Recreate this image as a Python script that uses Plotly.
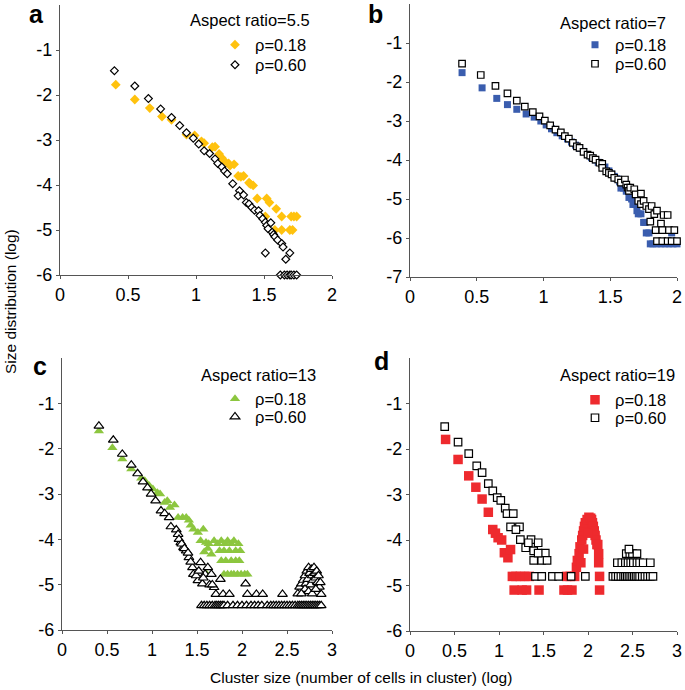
import plotly.graph_objects as go

W, H = 685, 690
FONT = "Liberation Sans, Arial, sans-serif"

# ---------------- data ----------------
# panel a  (aspect ratio 5.5)
a18_x = [0.41,0.55,0.66,0.75,0.82,0.93,0.99,1.04,1.06,1.12,1.14,1.17,1.19,1.21,1.24,1.25,1.28,1.31,1.33,1.35,
         1.39,1.40,1.42,1.45,1.52,1.54,1.51,1.59,1.63,1.70,1.72,1.74,1.58,1.63,1.69,1.71]
a18_y = [-1.77,-2.10,-2.29,-2.48,-2.55,-2.88,-2.90,-3.03,-3.07,-3.16,-3.15,-3.31,-3.40,-3.47,-3.52,-3.57,-3.54,-3.80,-3.82,-3.80,
         -3.95,-3.98,-4.01,-4.30,-4.30,-4.39,-4.70,-4.53,-4.70,-4.70,-4.70,-4.70,-5.00,-5.00,-5.00,-5.00]
a60_x = [0.40,0.55,0.65,0.74,0.82,0.88,0.93,0.98,1.02,1.06,1.10,1.14,1.16,1.19,1.21,1.23,1.27,1.32,1.31,1.35,
         1.37,1.39,1.41,1.43,1.46,1.47,1.49,1.51,1.52,1.53,1.55,1.56,1.57,1.58,1.60,1.63,1.64,1.66,1.69,1.51,
         1.62,1.65,1.67,1.69,1.70,1.72,1.74]
a60_y = [-1.46,-1.80,-2.08,-2.31,-2.50,-2.68,-2.84,-2.96,-3.09,-3.24,-3.30,-3.42,-3.52,-3.60,-3.69,-3.75,-3.97,-4.13,-4.24,-4.22,
         -4.39,-4.42,-4.50,-4.56,-4.57,-4.68,-4.75,-4.83,-4.90,-4.97,-4.84,-5.05,-5.10,-5.15,-5.22,-5.30,-5.38,-5.65,-5.51,-5.51,
         -6.0,-6.0,-6.0,-6.0,-6.0,-6.0,-6.0]

# panel b  (aspect ratio 7)
b18_x = [0.39,0.54,0.65,0.73,0.80,0.87,0.93,0.98,1.02,1.06,1.10,1.14,1.18,1.21,1.24,1.27,1.30,1.33,1.36,1.39,
         1.41,1.44,1.46,1.49,1.51,1.53,1.55,1.57,1.58,1.60,1.62,1.64,1.66,1.67,1.69,1.70,1.71,1.73,1.75,1.76,
         1.77,1.79,1.80,1.82,1.85,1.88,1.91,1.94,1.97,2.00,1.96]
b18_y = [-1.76,-2.15,-2.42,-2.58,-2.70,-2.82,-2.90,-3.00,-3.10,-3.20,-3.30,-3.38,-3.46,-3.54,-3.62,-3.70,-3.78,-3.86,-3.94,-4.00,
         -4.06,-4.10,-4.18,-4.28,-4.36,-4.42,-4.48,-4.56,-4.72,-4.72,-4.80,-4.96,-5.00,-5.14,-5.14,-5.30,-5.38,-5.38,-5.60,-5.60,
         -5.87,-5.87,-6.15,-6.15,-6.15,-6.15,-6.15,-6.15,-6.15,-6.15,-5.87]
b60_x = [0.39,0.53,0.64,0.73,0.80,0.86,0.92,0.97,1.01,1.05,1.09,1.13,1.16,1.19,1.22,1.25,1.27,1.30,1.33,1.35,
         1.37,1.39,1.42,1.44,1.44,1.47,1.49,1.51,1.53,1.56,1.58,1.61,1.62,1.63,1.64,1.65,1.68,1.69,1.73,1.71,
         1.73,1.75,1.77,1.79,1.81,1.83,1.85,1.80,1.90,1.93,1.88,1.84,1.89,1.94,1.98,1.85,1.89,1.93,1.96,2.00]
b60_y = [-1.53,-1.82,-2.10,-2.29,-2.48,-2.63,-2.77,-2.88,-2.99,-3.11,-3.22,-3.29,-3.39,-3.45,-3.56,-3.65,-3.69,-3.79,-3.86,-3.89,
         -3.95,-3.99,-4.07,-4.10,-4.20,-4.29,-4.33,-4.37,-4.46,-4.50,-4.58,-4.50,-4.63,-4.71,-4.79,-4.71,-4.75,-4.88,-4.86,-5.05,
         -5.13,-5.05,-5.18,-5.26,-5.18,-5.39,-5.30,-5.58,-5.41,-5.41,-5.63,-5.80,-5.80,-5.80,-5.80,-6.08,-6.08,-6.08,-6.08,-6.08]

# panel c  (aspect ratio 13)
c18_x = [0.41,0.56,0.67,0.77,0.88,0.92,0.97,1.01,1.06,1.09,1.14,1.17,1.20,1.25,1.29,1.34,1.38,1.41,1.43,1.46,
         1.51,1.57,1.54,1.60,1.63,1.69,1.73,1.77,1.81,1.84,1.88,1.91,1.96,1.66,1.75,1.80,1.86,1.93,1.98,1.77,
         1.82,1.88,1.93,1.97,1.80,1.84,1.88,1.91,1.95,1.99,2.03,2.06,1.58,1.62,1.60]
c18_y = [-1.61,-1.98,-2.23,-2.45,-2.65,-2.71,-2.82,-2.89,-2.97,-3.00,-3.19,-3.15,-3.30,-3.24,-3.52,-3.52,-3.52,-3.58,-3.69,-3.78,
         -3.85,-3.78,-4.03,-4.07,-4.10,-4.03,-4.10,-4.03,-4.10,-4.03,-4.10,-4.03,-4.10,-4.33,-4.25,-4.25,-4.25,-4.25,-4.25,-4.47,
         -4.47,-4.47,-4.47,-4.47,-4.77,-4.77,-4.77,-4.77,-4.77,-4.77,-4.77,-4.77,-4.28,-4.20,-4.75]
c60_x = [0.41,0.57,0.67,0.77,0.84,0.90,0.95,0.99,1.04,1.10,1.14,1.19,1.21,1.27,1.29,1.32,1.35,1.38,1.41,1.45,
         1.46,1.51,1.54,1.56,1.59,1.62,1.66,1.69,1.76,1.71,1.79,1.86,2.04,2.06,2.16,2.23,2.45,
         1.30,1.33,1.36,1.40,1.43,1.49,1.52,1.57,1.64,1.67,
         1.55,1.58,1.61,1.64,1.67,1.70,1.72,1.74,1.76,1.78,1.80,1.84,1.90,1.95,2.00,2.05,2.10,2.14,2.18,2.22,
         2.28,2.32,2.35,2.38,2.41,2.44,2.47,2.50,2.53,2.56,2.59,2.62,2.64,2.66,2.68,2.70,2.72,2.74,2.76,2.78,
         2.80,2.82,2.84,2.86,2.88,
         2.62,2.64,2.66,2.68,2.70,2.71,2.72,2.73,2.74,2.75,2.76,2.77,2.78,2.79,2.80,2.81,2.82,2.83,2.84,2.85,
         2.86,2.87,2.88,2.70,2.74,2.78,2.82,2.66]
c60_y = [-1.50,-1.81,-2.12,-2.36,-2.55,-2.73,-2.86,-3.00,-3.15,-3.37,-3.43,-3.52,-3.72,-3.79,-3.89,-4.07,-4.18,-4.25,-4.40,-4.62,
         -4.77,-4.91,-4.51,-4.98,-4.77,-4.62,-4.77,-5.06,-4.88,-5.21,-5.21,-5.21,-4.98,-5.21,-5.21,-5.21,-5.21,
         -4.00,-4.10,-4.20,-4.30,-4.50,-4.80,-4.70,-4.85,-5.00,-5.00,
         -5.46,-5.46,-5.46,-5.46,-5.46,-5.46,-5.46,-5.46,-5.46,-5.46,-5.46,-5.46,-5.46,-5.46,-5.46,-5.46,-5.46,-5.46,-5.46,-5.46,
         -5.46,-5.46,-5.46,-5.46,-5.46,-5.46,-5.46,-5.46,-5.46,-5.46,-5.46,-5.46,-5.46,-5.46,-5.46,-5.46,-5.46,-5.46,-5.46,-5.46,
         -5.46,-5.46,-5.46,-5.46,-5.46,
         -5.20,-5.05,-4.98,-4.90,-4.80,-4.98,-4.70,-4.88,-4.62,-4.75,-5.00,-4.66,-4.80,-4.90,-4.62,-4.75,-4.85,-4.70,-4.95,-4.80,
         -5.05,-4.95,-5.21,-5.10,-5.15,-5.20,-5.10,-5.20]

# panel d  (aspect ratio 19)
d18_x = [0.40,0.54,0.66,0.74,0.81,0.88,0.93,0.96,0.99,1.03,1.06,1.10,1.13,1.15,1.19,1.24,1.29,1.34,1.17,1.26,
         1.31,1.45,1.73,1.77,1.82,1.76,1.80,1.85,1.87,1.88,1.90,1.91,1.93,1.94,1.95,1.96,1.97,1.99,2.01,2.03,
         2.04,2.05,2.06,2.07,2.08,2.09,2.10,2.11,2.12,2.12,2.13,2.13,1.92,1.95,2.00]
d18_y = [-1.79,-2.23,-2.59,-2.84,-3.10,-3.39,-3.77,-3.85,-3.95,-4.00,-4.28,-4.39,-4.21,-4.80,-4.80,-4.80,-4.80,-4.80,-5.10,-5.10,
         -5.10,-5.10,-5.10,-5.10,-5.10,-4.80,-4.80,-4.80,-4.60,-4.45,-4.30,-4.15,-4.00,-3.90,-3.80,-3.70,-3.62,-3.55,-3.50,-3.52,
         -3.55,-3.62,-3.70,-3.80,-3.90,-4.00,-4.10,-4.10,-4.30,-4.50,-4.80,-5.10,-4.50,-4.20,-3.85]
d60_x = [0.39,0.54,0.66,0.75,0.81,0.88,0.93,0.98,1.02,1.07,1.09,1.16,1.13,1.23,1.19,1.24,1.30,1.36,1.33,1.44,
         1.39,1.39,1.52,1.48,1.54,1.44,1.41,1.48,1.60,1.67,1.81,1.97,
         2.28,2.31,2.34,2.37,2.40,2.42,2.44,2.46,2.48,2.50,2.52,2.54,2.56,2.58,2.61,2.64,2.67,2.70,2.73,
         2.33,2.38,2.42,2.45,2.48,2.51,2.55,2.58,2.62,2.70,
         2.43,2.47,2.50,2.55,2.46]
d60_y = [-1.51,-1.85,-2.10,-2.37,-2.52,-2.76,-2.92,-3.07,-3.13,-3.30,-3.42,-3.42,-3.71,-3.71,-3.77,-3.99,-4.17,-3.99,-4.06,-4.06,
         -4.24,-4.45,-4.29,-4.45,-4.45,-4.29,-4.80,-4.80,-4.80,-4.80,-4.80,-4.80,
         -4.80,-4.80,-4.80,-4.80,-4.80,-4.80,-4.80,-4.80,-4.80,-4.80,-4.80,-4.80,-4.80,-4.80,-4.80,-4.80,-4.80,-4.80,-4.80,
         -4.50,-4.50,-4.50,-4.50,-4.50,-4.50,-4.50,-4.50,-4.50,-4.50,
         -4.30,-4.30,-4.30,-4.30,-4.20]

panel_titles = ["Aspect ratio=5.5", "Aspect ratio=7", "Aspect ratio=13", "Aspect ratio=19"]
panel_letters = ["a", "b", "c", "d"]
series_names = ["\u03c1=0.18", "\u03c1=0.60"]
x_title = "Cluster size (number of cells in cluster) (log)"
y_title = "Size distribution (log)"

# ---------------- layout helpers ----------------
def px(x):
    return x / W

def py(y):
    return 1 - y / H

# panel boxes in pixels: (left, right, top, bottom)
boxes = [(60, 332, 5, 275), (410, 677, 4, 277), (62, 332, 358, 630), (410, 677, 358, 631)]
xranges = [[0, 2], [0, 2], [0, 3], [0, 3]]
yranges = [[-6, 0], [-7, 0], [-6, 0], [-6, 0]]
xtickv = [[0, 0.5, 1, 1.5, 2]] * 2 + [[0, 0.5, 1, 1.5, 2, 2.5, 3]] * 2
ytickv = [[-1, -2, -3, -4, -5, -6], [-1, -2, -3, -4, -5, -6, -7],
          [-1, -2, -3, -4, -5, -6], [-1, -2, -3, -4, -5, -6]]

def fmt(v):
    return ("%g" % v)

fig = go.Figure()

colors18 = ["#FFC20E", "#3A5DAE", "#8CC63F", "#EE2A2E"]
sym18 = ["diamond", "square", "triangle-up", "square"]
sym60 = ["diamond", "square", "triangle-up", "square"]
size18 = [7.5, 7, 9, 9.5]
size60 = [6, 6.5, 8.5, 7.5]

data = [(a18_x, a18_y, a60_x, a60_y), (b18_x, b18_y, b60_x, b60_y),
        (c18_x, c18_y, c60_x, c60_y), (d18_x, d18_y, d60_x, d60_y)]

# legend marker centers (pixels) per panel: row1, row2
leg_pos = [((237, 45), (237, 65)), ((597, 45), (597, 64)),
           ((237, 399), (237, 417)), ((597, 400), (597, 418))]

for i, (x18, y18, x60, y60) in enumerate(data):
    sfx = "" if i == 0 else str(i + 1)
    xa, ya = "x" + sfx, "y" + sfx
    lg1 = "legend" if i == 0 else "legend" + str(2 * i + 1)
    lg2 = "legend" + str(2 * i + 2)
    fig.add_trace(go.Scatter(x=x18, y=y18, mode="markers", name=series_names[0],
                             xaxis=xa, yaxis=ya, legend=lg1, cliponaxis=False,
                             marker=dict(symbol=sym18[i], size=size18[i], color=colors18[i],
                                         line=dict(width=0))))
    fig.add_trace(go.Scatter(x=x60, y=y60, mode="markers", name=series_names[1],
                             xaxis=xa, yaxis=ya, legend=lg2, cliponaxis=False,
                             marker=dict(symbol=sym60[i], size=size60[i], color="white",
                                         line=dict(width=1.2, color="black"))))
    l, r, t, b = boxes[i]
    axcommon = dict(showline=True, linecolor="#555555", linewidth=1.2, showgrid=False, zeroline=False,
                    ticks="outside", ticklen=3, tickcolor="#555555", automargin=False,
                    ticklabeloverflow="allow",
                    tickfont=dict(family=FONT, size=18, color="black"))
    fig.layout["xaxis" + sfx] = dict(domain=[px(l), px(r)], anchor=ya, range=xranges[i],
                                     tickvals=xtickv[i], ticktext=[fmt(v) for v in xtickv[i]],
                                     **axcommon)
    fig.layout["yaxis" + sfx] = dict(domain=[py(b), py(t)], anchor=xa, range=yranges[i],
                                     tickvals=ytickv[i], ticktext=[fmt(v) for v in ytickv[i]],
                                     **axcommon)
    for k, lg in enumerate([lg1, lg2]):
        mx, my = leg_pos[i][k]
        fig.layout[lg] = dict(x=px(mx - 22), y=py(my), xanchor="left", yanchor="middle",
                              bgcolor="rgba(0,0,0,0)", borderwidth=0,
                              font=dict(family=FONT, size=16.5, color="black"),
                              itemclick=False)

annotations = []
title_pos = [(312, 20), (668, 23), (318, 375), (677, 375)]
letter_pos = [(36, 14), (375, 14), (40, 366), (381, 361)]
for i in range(4):
    tx, ty = title_pos[i]
    annotations.append(dict(text=panel_titles[i], x=px(tx), y=py(ty), xref="paper", yref="paper",
                            xanchor="right", yanchor="middle", showarrow=False,
                            font=dict(family=FONT, size=16.5, color="black")))
    lx, ly = letter_pos[i]
    annotations.append(dict(text="<b>" + panel_letters[i] + "</b>", x=px(lx), y=py(ly),
                            xref="paper", yref="paper", xanchor="center", yanchor="middle",
                            showarrow=False, font=dict(family=FONT, size=25, color="black")))
annotations.append(dict(text=x_title, x=px(361), y=py(677), xref="paper", yref="paper",
                        xanchor="center", yanchor="middle", showarrow=False,
                        font=dict(family=FONT, size=15.5, color="black")))
annotations.append(dict(text=y_title, x=px(10), y=py(302), xref="paper", yref="paper",
                        xanchor="center", yanchor="middle", showarrow=False, textangle=-90,
                        font=dict(family=FONT, size=15.5, color="black")))

fig.update_layout(width=W, height=H, margin=dict(l=0, r=0, t=0, b=0, pad=0, autoexpand=False),
                  paper_bgcolor="white", plot_bgcolor="white",
                  showlegend=True, annotations=annotations,
                  font=dict(family=FONT, color="black"))

fig.write_html("out.html", config={"displayModeBar": False},
               post_script="document.body.style.margin='0';document.body.style.overflow='hidden';")
